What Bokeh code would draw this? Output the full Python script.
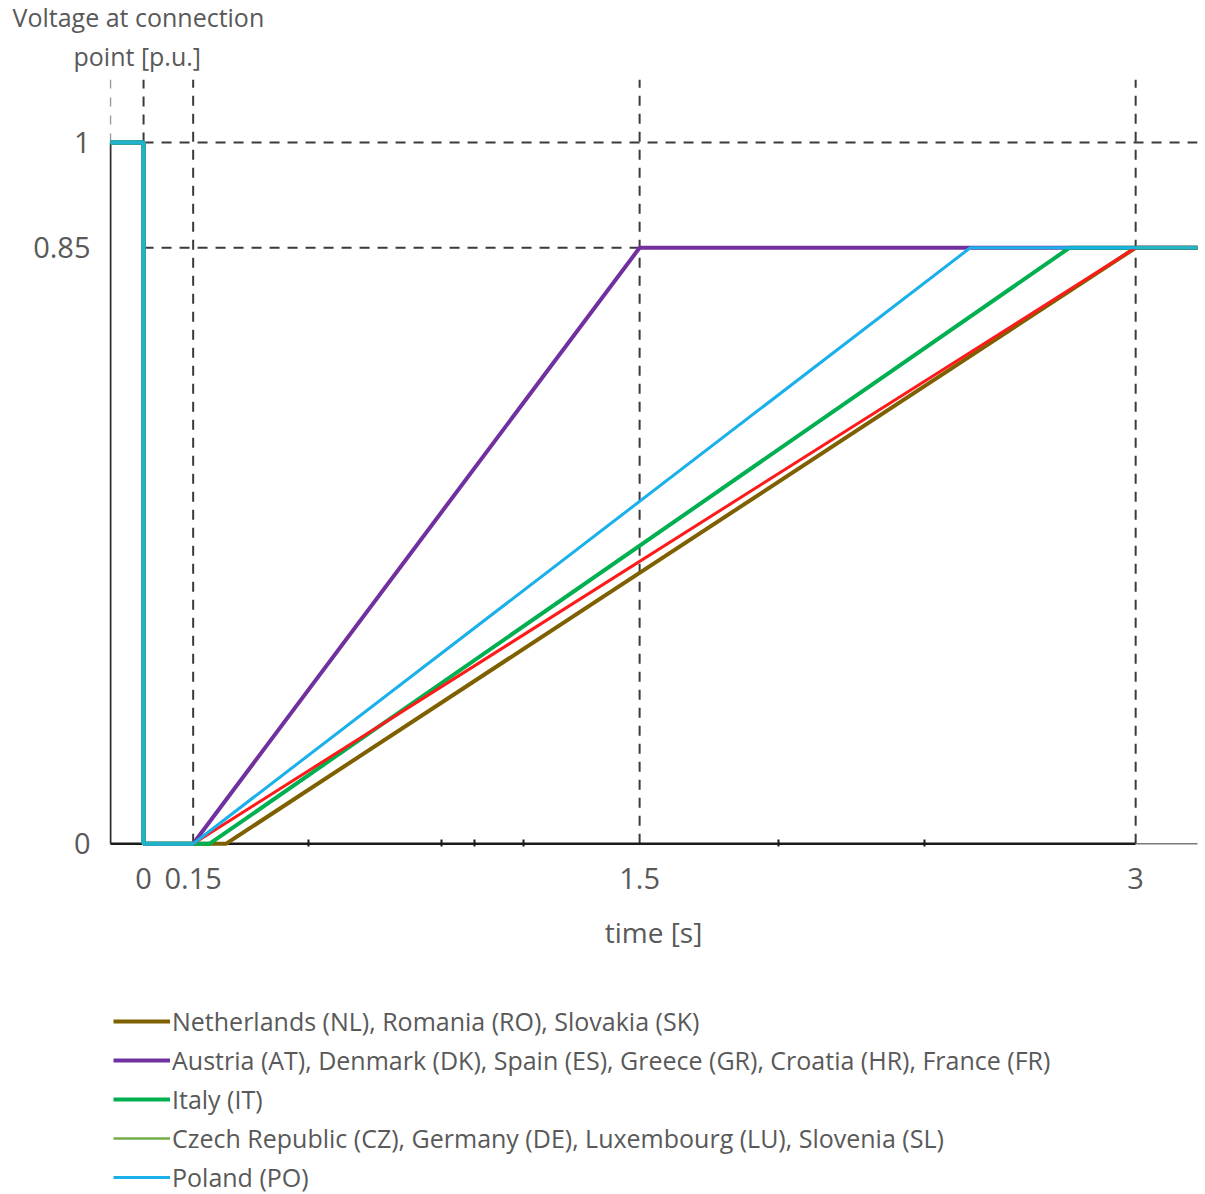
from bokeh.plotting import figure
from bokeh.layouts import column
from bokeh.models import Range1d, FixedTicker, Legend, LegendItem, Title
from bokeh.embed import file_html
from bokeh.resources import INLINE

# ---- data (time in s, voltage in p.u.) ----
nl_time = [-0.1, 0.0, 0.0, 0.15, 0.25, 3.0, 3.19]
nl_volt = [1.0, 1.0, 0.0, 0.0, 0.0, 0.85, 0.85]

at_time = [-0.1, 0.0, 0.0, 0.15, 1.5, 3.19]
at_volt = [1.0, 1.0, 0.0, 0.0, 0.85, 0.85]

it_time = [-0.1, 0.0, 0.0, 0.15, 0.2, 2.8, 3.19]
it_volt = [1.0, 1.0, 0.0, 0.0, 0.0, 0.85, 0.85]

cz_time = [-0.1, 0.0, 0.0, 0.15, 0.2, 2.8, 3.19]
cz_volt = [1.0, 1.0, 0.0, 0.0, 0.0, 0.85, 0.85]

red_time = [-0.1, 0.0, 0.0, 0.15, 3.0, 3.19]
red_volt = [1.0, 1.0, 0.0, 0.0, 0.85, 0.85]

po_time = [-0.1, 0.0, 0.0, 0.15, 2.5, 3.19]
po_volt = [1.0, 1.0, 0.0, 0.0, 0.85, 0.85]

step_time = [-0.1, 0.0, 0.0, 0.15]
step_volt = [1.0, 1.0, 0.0, 0.0]
tail_time = [3.0, 3.19]
tail_volt = [0.85, 0.85]

x_ticks = [0, 0.15, 1.5, 3]
x_tick_labels = ["0", "0.15", "1.5", "3"]
y_ticks = [0, 0.85, 1]
y_tick_labels = ["0", "0.85", "1"]
x_minor = [0.5, 0.9, 1.0, 1.15, 1.92, 2.36]

guide_x = [0.0, 0.15, 1.5, 3.0]
guide_x_from = [1.0, 0.0, 0.0, 0.0]
guide_y = [1.0, 0.85]

y_title_lines = ["Voltage at connection", "point [p.u.]"]
x_title = "time [s]"

legend_labels = [
    "Netherlands (NL), Romania (RO), Slovakia (SK)",
    "Austria (AT), Denmark (DK), Spain (ES), Greece (GR), Croatia (HR), France (FR)",
    "Italy (IT)",
    "Czech Republic (CZ), Germany (DE), Luxembourg (LU), Slovenia (SL)",
    "Poland (PO)",
]

# styles: (colour, width) per series
ST_NL = ("#7f6000", 4)
ST_AT = ("#7030a0", 4)
ST_IT = ("#00b050", 4)
ST_CZ = ("#70ad47", 2.5)
ST_PO = ("#1ab0ea", 3)
ST_RED = ("#ff1a1a", 3)

FONT = "Open Sans"
TXT = "#595959"
Y_TOP = 1.09

p = figure(frame_width=1088, frame_height=767,
           x_range=Range1d(-0.103, 3.187), y_range=Range1d(-0.004, Y_TOP),
           output_backend="svg", toolbar_location=None,
           min_border_left=109, min_border_right=1, min_border_top=77,
           min_border_bottom=130, background_fill_color="white",
           border_fill_color="white")
p.outline_line_color = None
p.xgrid.visible = False
p.ygrid.visible = False

# guides
top_vals = [Y_TOP] * len(guide_x)
p.segment(x0=guide_x, y0=guide_x_from, x1=guide_x, y1=top_vals,
          line_color="#3a3a3a", line_width=2, line_dash="10 8")
p.segment(x0=[0.0] * len(guide_y), y0=guide_y, x1=[3.19] * len(guide_y), y1=guide_y,
          line_color="#3a3a3a", line_width=2, line_dash="10 8")
p.segment(x0=[-0.1], y0=[1.0], x1=[-0.1], y1=[Y_TOP],
          line_color="#9a9a9a", line_width=1.5, line_dash="9 9")

# axes lines
p.segment(x0=[-0.1], y0=[0.0], x1=[-0.1], y1=[1.0], line_color="#303030", line_width=2)
p.segment(x0=[-0.1], y0=[0.0], x1=[3.0], y1=[0.0], line_color="#1a1a1a", line_width=2.5)
p.segment(x0=[3.0], y0=[0.0], x1=[3.19], y1=[0.0], line_color="#7a7a7a", line_width=1.5)

def draw(fig, xs, ys, st):
    return fig.line(xs, ys, line_color=st[0], line_width=st[1])

series = [(nl_time, nl_volt, ST_NL), (at_time, at_volt, ST_AT),
          (it_time, it_volt, ST_IT), (cz_time, cz_volt, ST_CZ),
          (po_time, po_volt, ST_PO)]

draw(p, nl_time, nl_volt, ST_NL)
draw(p, at_time, at_volt, ST_AT)
draw(p, cz_time, cz_volt, ST_CZ)
draw(p, it_time, it_volt, ST_IT)
draw(p, red_time, red_volt, ST_RED)
draw(p, po_time, po_volt, ST_PO)
p.line(step_time, step_volt, line_color="#1fb3cc", line_width=4)
p.line(tail_time, tail_volt, line_color="#22b5c8", line_width=3)

# axes
xa = p.xaxis[0]
xa.ticker = FixedTicker(ticks=x_ticks, minor_ticks=x_minor)
xa.major_label_overrides = dict(zip(x_ticks, x_tick_labels))
xa.axis_line_color = None
xa.major_tick_in = 0
xa.major_tick_out = 0
xa.minor_tick_in = 7
xa.minor_tick_out = 0
xa.minor_tick_line_color = "#1a1a1a"
xa.minor_tick_line_width = 2
xa.major_label_text_font = FONT
xa.major_label_text_font_size = "29px"
xa.major_label_text_color = TXT
xa.major_label_standoff = 21
xa.axis_label = x_title
xa.axis_label_text_font = FONT
xa.axis_label_text_font_size = "28px"
xa.axis_label_text_font_style = "normal"
xa.axis_label_text_color = TXT
xa.axis_label_standoff = 21

ya = p.yaxis[0]
ya.ticker = FixedTicker(ticks=y_ticks)
ya.major_label_overrides = dict(zip(y_ticks, y_tick_labels))
ya.axis_line_color = None
ya.major_tick_in = 0
ya.major_tick_out = 0
ya.minor_tick_in = 0
ya.minor_tick_out = 0
ya.major_label_text_font = FONT
ya.major_label_text_font_size = "29px"
ya.major_label_text_color = TXT
ya.major_label_standoff = 19

# y title (two horizontal lines above the plot); later added = further up
p.add_layout(Title(text=y_title_lines[1], align="left", offset=-36,
                   text_font=FONT, text_font_size="25px", text_font_style="normal",
                   text_color=TXT, standoff=13), "above")
p.add_layout(Title(text=y_title_lines[0], align="left", offset=-97,
                   text_font=FONT, text_font_size="25px", text_font_style="normal",
                   text_color=TXT, standoff=-6), "above")

# ---- legend strip below the chart (series drawn outside its view) ----
q = figure(width=1198, height=220, x_range=Range1d(-0.103, 3.187),
           y_range=Range1d(10, 11),
           output_backend="svg", toolbar_location=None,
           min_border_left=109, min_border_right=1, min_border_top=24,
           min_border_bottom=0, background_fill_color="white",
           border_fill_color="white")
q.outline_line_color = None
q.xgrid.visible = False
q.ygrid.visible = False
q.xaxis.visible = False
q.yaxis.visible = False

leg_renderers = [draw(q, xs, ys, st) for xs, ys, st in series]
legend = Legend(items=[LegendItem(label=lab, renderers=[r])
                       for lab, r in zip(legend_labels, leg_renderers)],
                location="top_left", orientation="vertical",
                label_text_font=FONT, label_text_font_size="25px",
                label_text_color=TXT, glyph_width=57, glyph_height=30,
                label_height=30, label_standoff=2, spacing=5, padding=4,
                margin=4, border_line_color=None, background_fill_alpha=0)
q.add_layout(legend)

open("out.html", "w").write(file_html(column(p, q, spacing=0), INLINE))
